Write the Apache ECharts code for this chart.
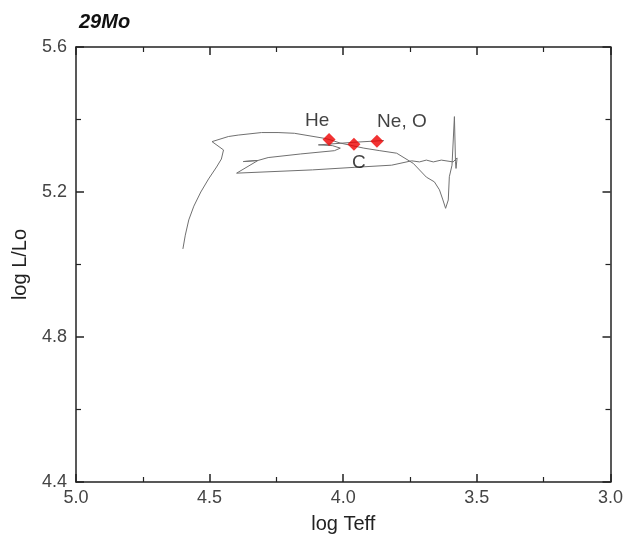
<!DOCTYPE html>
<html>
<head>
<meta charset="utf-8">
<script src="https://cdn.jsdelivr.net/npm/echarts@6/dist/echarts.min.js"></script>
<style>
html,body{margin:0;padding:0;background:#fff;}
#c{width:626px;height:542px;}
</style>
</head>
<body>
<div id="c"></div>
<script>
// Evolutionary track (log Teff, log L/Lo)
const trackMain = [
  [4.600,5.043],[4.591,5.081],[4.578,5.123],[4.559,5.161],[4.533,5.200],
  [4.504,5.236],[4.474,5.269],[4.456,5.291],[4.448,5.316],[4.491,5.339],
  [4.430,5.353],[4.393,5.357],[4.306,5.364],[4.244,5.364],[4.183,5.362],
  [4.070,5.348],[4.053,5.345],[4.011,5.335],[3.923,5.321],[3.863,5.314],
  [3.800,5.307],[3.738,5.279],[3.689,5.241],[3.659,5.228],[3.640,5.206],
  [3.627,5.178],[3.617,5.155],[3.607,5.178],[3.603,5.242],[3.593,5.274],
  [3.584,5.408],[3.580,5.284],[3.578,5.265],[3.574,5.294],[3.589,5.283]
];
const trackReturn = [
  [3.589,5.283],[3.596,5.281],[3.633,5.288],[3.663,5.283],[3.689,5.288],
  [3.715,5.283],[3.744,5.286],[3.819,5.274],[3.959,5.268],[4.115,5.261],
  [4.399,5.252],[4.319,5.287],[4.374,5.284],[4.319,5.287],[4.281,5.295],
  [4.159,5.305],[4.033,5.314],[4.011,5.321],[4.041,5.328],[4.093,5.330],
  [3.963,5.337],[3.848,5.342]
];
const burnNames = ['He','C','Ne, O'];
const burnTeff  = [4.053, 3.960, 3.874];
const burnLum   = [5.345, 5.332, 5.340];
const xTicks = [5.0, 4.5, 4.0, 3.5, 3.0];
const yTicks = [4.4, 4.8, 5.2, 5.6];

const labelPos = {
  'He':    {position:'top',    offset:[-12,0]},
  'C':     {position:'bottom', offset:[5,0]},
  'Ne, O': {position:'top',    offset:[25,0]}
};

const chart = echarts.init(document.getElementById('c'), null, {renderer:'canvas'});
const FONT = 'Liberation Sans, Arial, sans-serif';
const axisCommon = {
  axisLine:{show:true, onZero:false, lineStyle:{color:'#222', width:1.5}},
  axisTick:{show:true, inside:true, length:8, lineStyle:{color:'#222', width:1.5}},
  minorTick:{show:true, splitNumber:2, length:5, lineStyle:{color:'#222', width:1.2}},
  splitLine:{show:false},
  minorSplitLine:{show:false}
};
chart.setOption({
  animation:false,
  backgroundColor:'#fff',
  title:{
    text:'29Mo', left:74, top:7,
    textStyle:{fontFamily:FONT, fontSize:20, fontWeight:'bold', fontStyle:'italic', color:'#111'}
  },
  grid:{left:76, right:10, top:47, bottom:60, containLabel:false},
  xAxis:[
    Object.assign({}, axisCommon, {
      type:'value', position:'bottom', inverse:true, min:xTicks[4], max:xTicks[0], interval:0.5,
      name:'log Teff', nameLocation:'middle', nameGap:32,
      nameTextStyle:{fontFamily:FONT, fontSize:20, color:'#222'},
      axisLabel:{fontFamily:FONT, fontSize:18, color:'#444', margin:7,
        formatter:v=>Number(v).toFixed(1)}
    }),
    Object.assign({}, axisCommon, {
      type:'value', position:'top', inverse:true, min:xTicks[4], max:xTicks[0], interval:0.5,
      axisLabel:{show:false}
    })
  ],
  yAxis:[
    Object.assign({}, axisCommon, {
      type:'value', position:'left', min:yTicks[0], max:yTicks[3], interval:0.4,
      name:'log L/Lo', nameLocation:'middle', nameGap:46, nameRotate:90,
      nameTextStyle:{fontFamily:FONT, fontSize:20, color:'#222'},
      axisLabel:{fontFamily:FONT, fontSize:18, color:'#444', margin:9,
        formatter:v=>Number(v).toFixed(1)}
    }),
    Object.assign({}, axisCommon, {
      type:'value', position:'right', min:yTicks[0], max:yTicks[3], interval:0.4,
      axisLabel:{show:false}
    })
  ],
  series:[
    {type:'line', xAxisIndex:0, yAxisIndex:0, data:trackMain, showSymbol:false,
     lineStyle:{color:'#707070', width:1}, z:2},
    {type:'line', xAxisIndex:0, yAxisIndex:0, data:trackReturn, showSymbol:false,
     lineStyle:{color:'#707070', width:1}, z:2},
    {type:'scatter', xAxisIndex:0, yAxisIndex:0, symbol:'diamond', symbolSize:13,
     itemStyle:{color:'#ee0000'}, z:5,
     data: burnNames.map((n,i)=>({
       name:n, value:[burnTeff[i], burnLum[i]],
       label:{show:true, formatter:n, position:labelPos[n].position, offset:labelPos[n].offset,
         fontFamily:FONT, fontSize:19, color:'#111', distance:3}
     }))
    }
  ]
});
</script>
</body>
</html>
